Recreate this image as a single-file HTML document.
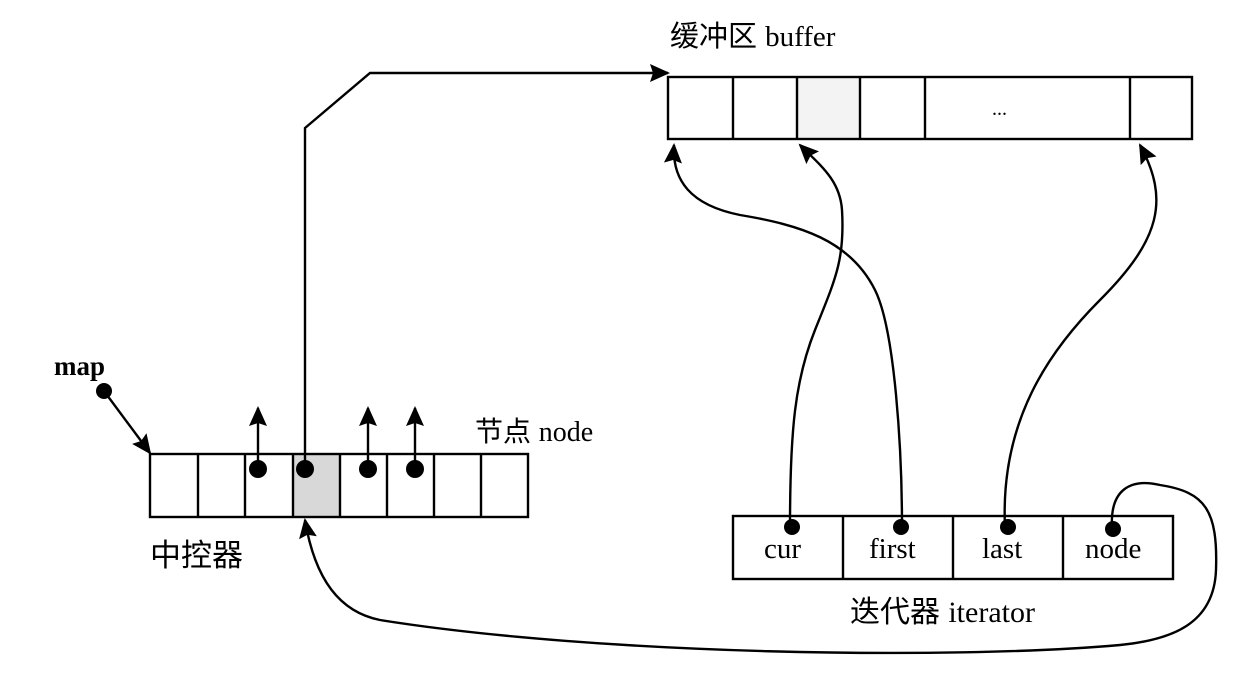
<!DOCTYPE html>
<html><head><meta charset="utf-8"><style>
body{margin:0;background:#fff}
svg{display:block}
text{font-family:"Liberation Serif","Noto Sans CJK SC",serif;fill:#000}
.c{font-family:"Liberation Sans","Noto Sans CJK SC",sans-serif}
</style></head><body>
<svg width="1244" height="688" viewBox="0 0 1244 688" xmlns="http://www.w3.org/2000/svg">
<defs>
<marker id="b" markerWidth="20" markerHeight="18" refX="18" refY="9" orient="auto" markerUnits="userSpaceOnUse" viewBox="0 0 20 18">
<path d="M0,0 L20,9 L0,18 L3,9 Z" fill="#000"/></marker>
</defs>
<g fill="none" stroke="#000" stroke-width="2.4">
<rect x="797" y="77" width="63" height="62" fill="#f3f3f3" stroke="none"/>
<rect x="668" y="77" width="524" height="62"/>
<path d="M733 77V139M797 77V139M860 77V139M925 77V139M1130 77V139"/>
<rect x="293" y="454" width="47" height="63" fill="#d8d8d8" stroke="none"/>
<rect x="150" y="454" width="378" height="63"/>
<path d="M198 454V517M245 454V517M293 454V517M340 454V517M387 454V517M434 454V517M481 454V517"/>
<rect x="733" y="516" width="440" height="63"/>
<path d="M843 516V579M953 516V579M1063 516V579"/>
<path d="M104 391 L150 453" marker-end="url(#b)"/>
<path d="M258 468 V408" marker-end="url(#b)"/>
<path d="M368 468 V408" marker-end="url(#b)"/>
<path d="M415 468 V408" marker-end="url(#b)"/>
<path d="M305 468 V128 L370 73 H668" marker-end="url(#b)"/>
<path d="M790 527 C790 430 795 380 815 330 C835 280 845 260 842 210 C840 180 820 165 800 145" marker-end="url(#b)"/>
<path d="M902 527 C902 450 895 330 875 290 C850 240 800 225 740 215 C690 205 672 180 674 145" marker-end="url(#b)"/>
<path d="M1005 527 C1000 420 1050 350 1100 300 C1160 240 1170 200 1140 145" marker-end="url(#b)"/>
<path d="M1112 527 C1110 490 1130 478 1160 485 C1205 492 1218 510 1216 570 C1214 625 1170 640 1120 645 C950 660 600 655 380 620 C340 612 315 580 305 520" marker-end="url(#b)"/>
</g>
<g fill="#000">
<circle cx="104" cy="391" r="8"/>
<circle cx="258" cy="469" r="9"/><circle cx="305" cy="469" r="9"/>
<circle cx="368" cy="469" r="9"/><circle cx="415" cy="469" r="9"/>
<circle cx="792" cy="527" r="8"/><circle cx="901" cy="527" r="8"/>
<circle cx="1008" cy="527" r="8"/><circle cx="1113" cy="529" r="8"/>
</g>
<text x="992" y="115" font-size="20">...</text>
<text x="54" y="375" font-size="27" font-weight="bold">map</text>
<text x="764" y="558" font-size="29">cur</text>
<text x="869" y="558" font-size="29">first</text>
<text x="982" y="558" font-size="29">last</text>
<text x="1085" y="558" font-size="29">node</text>
<text x="670" y="46" font-size="29" class="c">缓冲区 <tspan font-family="Liberation Serif">buffer</tspan></text>
<text x="475" y="441" font-size="28" class="c">节点 <tspan font-family="Liberation Serif">node</tspan></text>
<text x="150" y="566" font-size="31" class="c">中控器</text>
<text x="850" y="622" font-size="30" class="c">迭代器 <tspan font-family="Liberation Serif">iterator</tspan></text>
</svg>
</body></html>
